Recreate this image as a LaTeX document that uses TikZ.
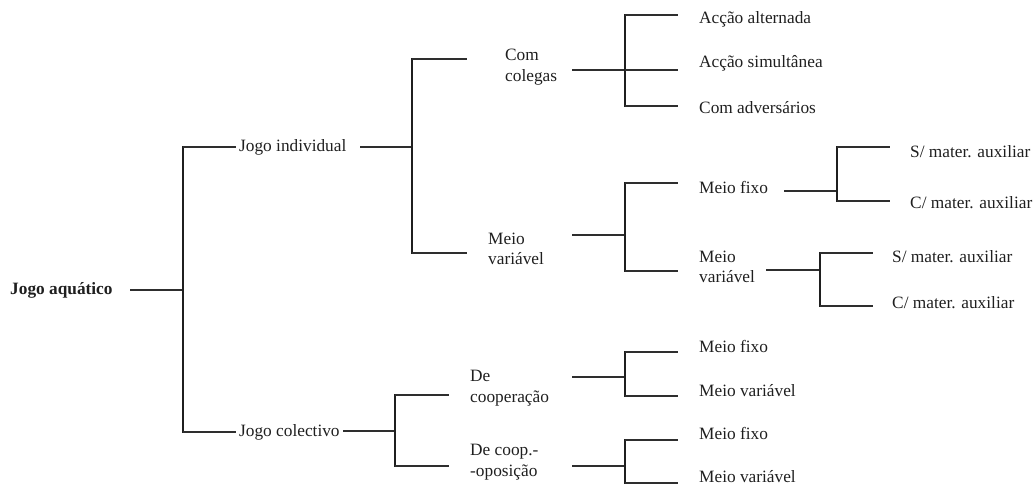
\documentclass[tikz,border=0pt]{standalone}
\usepackage{fontspec}
\setmainfont{Liberation Serif}
\begin{document}
\begin{tikzpicture}[x=1pt,y=-1pt,
  lbl/.style={anchor=west, inner sep=0pt, text=black!88,
    font=\fontsize{17.3}{20.5}\selectfont, align=left},
  bar/.style={line width=1.7pt, draw=black!88, line cap=rect},
  twig/.style={line width=1.2pt, draw=black!82}]
\useasboundingbox (0,0) rectangle (1035,486);

% ---- labels ----
\node[lbl] (root) at (10,290) {\textbf{Jogo aquático}};
\node[lbl] (ind)  at (239,147) {Jogo individual};
\node[lbl] (col)  at (239,432) {Jogo colectivo};
\node[lbl] (cc)   at (505,67)  {Com\\colegas};
\node[lbl] (mv)   at (488,249) {Meio\\variável};
\node[lbl] (dc)   at (470,388) {De\\cooperação};
\node[lbl] (dco)  at (470,462) {De coop.-\\-oposição};
\node[lbl] (a1)   at (699,19)  {Acção alternada};
\node[lbl] (a2)   at (699,63)  {Acção simultânea};
\node[lbl] (a3)   at (699,108) {Com adversários};
\node[lbl] (mf)   at (699,187) {Meio fixo};
\node[lbl] (mvv)  at (699,267) {Meio\\variável};
\node[lbl] (s1)   at (910,152) {S/ mater. auxiliar};
\node[lbl] (c1)   at (910,203) {C/ mater. auxiliar};
\node[lbl] (s2)   at (892,257) {S/ mater. auxiliar};
\node[lbl] (c2)   at (892,303) {C/ mater. auxiliar};
\node[lbl] (f1)   at (699,346) {Meio fixo};
\node[lbl] (v1)   at (699,391) {Meio variável};
\node[lbl] (f2)   at (699,433) {Meio fixo};
\node[lbl] (v2)   at (699,477) {Meio variável};

% ---- fork joints ----
% root
\coordinate (r-s) at (130,290); \coordinate (r-j) at (183,290);
\coordinate (r-t) at (183,147); \coordinate (r-b) at (183,432);
% jogo individual
\coordinate (i-s) at (360,147); \coordinate (i-j) at (412,147);
\coordinate (i-t) at (412,59);  \coordinate (i-b) at (412,253);
% com colegas
\coordinate (cc-s) at (572,70); \coordinate (cc-j) at (625,70);
\coordinate (cc-t) at (625,15); \coordinate (cc-b) at (625,106);
% meio variavel (individual)
\coordinate (mv-s) at (572,235); \coordinate (mv-j) at (625,235);
\coordinate (mv-t) at (625,183); \coordinate (mv-b) at (625,271);
% meio fixo
\coordinate (mf-s) at (784,191); \coordinate (mf-j) at (837,191);
\coordinate (mf-t) at (837,147); \coordinate (mf-b) at (837,201);
% meio variavel (second level)
\coordinate (mw-s) at (766,270); \coordinate (mw-j) at (820,270);
\coordinate (mw-t) at (820,253); \coordinate (mw-b) at (820,306);
% jogo colectivo
\coordinate (c-s) at (343,431); \coordinate (c-j) at (395,431);
\coordinate (c-t) at (395,395); \coordinate (c-b) at (395,466);
% de cooperacao
\coordinate (d-s) at (572,377); \coordinate (d-j) at (625,377);
\coordinate (d-t) at (625,352); \coordinate (d-b) at (625,396);
% de coop.-oposicao
\coordinate (o-s) at (572,466); \coordinate (o-j) at (625,466);
\coordinate (o-t) at (625,440); \coordinate (o-b) at (625,483);

% ---- connectors ----
% root
\draw[twig] (r-s) -- (r-j);
\draw[bar]  (r-t) -- (r-b);
\draw[twig] (r-t) -- ([xshift=-3pt]r-t -| ind.west);
\draw[twig] (r-b) -- ([xshift=-3pt]r-b -| col.west);
% jogo individual
\draw[twig] (i-s) -- (i-j);
\draw[bar]  (i-t) -- (i-b);
\draw[twig] (i-t) -- ([xshift=-38pt]i-t -| cc.west);
\draw[twig] (i-b) -- ([xshift=-21pt]i-b -| mv.west);
% com colegas
\draw[twig] (cc-s) -- (cc-j);
\draw[bar]  (cc-t) -- (cc-b);
\draw[twig] (cc-t) -- ([xshift=-21pt]cc-t -| a1.west);
\draw[twig] (cc-j) -- ([xshift=-21pt]cc-j -| a2.west);
\draw[twig] (cc-b) -- ([xshift=-21pt]cc-b -| a3.west);
% meio variavel (individual)
\draw[twig] (mv-s) -- (mv-j);
\draw[bar]  (mv-t) -- (mv-b);
\draw[twig] (mv-t) -- ([xshift=-21pt]mv-t -| mf.west);
\draw[twig] (mv-b) -- ([xshift=-21pt]mv-b -| mvv.west);
% meio fixo
\draw[twig] (mf-s) -- (mf-j);
\draw[bar]  (mf-t) -- (mf-b);
\draw[twig] (mf-t) -- ([xshift=-20pt]mf-t -| s1.west);
\draw[twig] (mf-b) -- ([xshift=-20pt]mf-b -| c1.west);
% meio variavel (second level)
\draw[twig] (mw-s) -- (mw-j);
\draw[bar]  (mw-t) -- (mw-b);
\draw[twig] (mw-t) -- ([xshift=-19pt]mw-t -| s2.west);
\draw[twig] (mw-b) -- ([xshift=-19pt]mw-b -| c2.west);
% jogo colectivo
\draw[twig] (c-s) -- (c-j);
\draw[bar]  (c-t) -- (c-b);
\draw[twig] (c-t) -- ([xshift=-21pt]c-t -| dc.west);
\draw[twig] (c-b) -- ([xshift=-21pt]c-b -| dco.west);
% de cooperacao
\draw[twig] (d-s) -- (d-j);
\draw[bar]  (d-t) -- (d-b);
\draw[twig] (d-t) -- ([xshift=-21pt]d-t -| f1.west);
\draw[twig] (d-b) -- ([xshift=-21pt]d-b -| v1.west);
% de coop.-oposicao
\draw[twig] (o-s) -- (o-j);
\draw[bar]  (o-t) -- (o-b);
\draw[twig] (o-t) -- ([xshift=-21pt]o-t -| f2.west);
\draw[twig] (o-b) -- ([xshift=-21pt]o-b -| v2.west);
\end{tikzpicture}
\end{document}
